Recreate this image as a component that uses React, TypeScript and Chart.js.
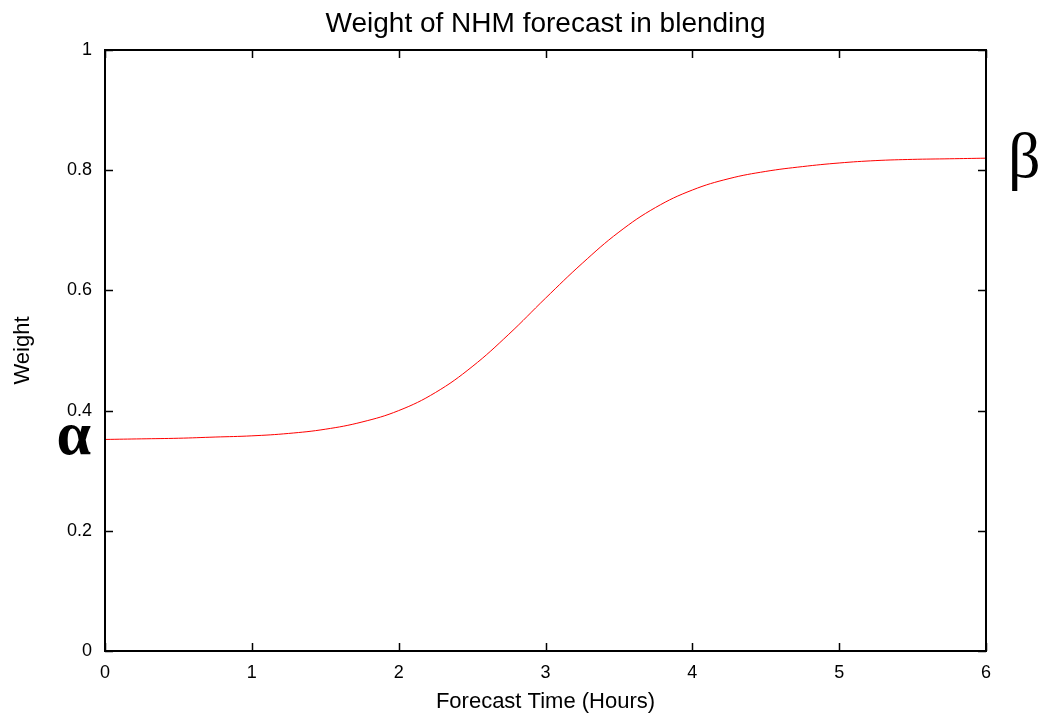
import { useEffect, useRef } from 'react';
import { Chart, registerables } from 'chart.js';

Chart.register(...registerables);

const TITLE = 'Weight of NHM forecast in blending';
const X_TITLE = 'Forecast Time (Hours)';
const Y_TITLE = 'Weight';
const START_SYMBOL = 'α';
const END_SYMBOL = 'β';

const hours = [0, 0.25, 0.5, 0.75, 1, 1.25, 1.5, 1.75, 2, 2.25, 2.5, 2.75, 3, 3.25, 3.5, 3.75, 4, 4.25, 4.5, 4.75, 5, 5.25, 5.5, 5.75, 6];
const weights = [0.352, 0.353, 0.354, 0.356, 0.358, 0.362, 0.369, 0.381, 0.4, 0.43, 0.473, 0.527, 0.587, 0.645, 0.697, 0.738, 0.767, 0.786, 0.798, 0.806, 0.812, 0.816, 0.818, 0.819, 0.82];

const xTicks = [0, 1, 2, 3, 4, 5, 6];
const yTicks = [0, 0.2, 0.4, 0.6, 0.8, 1];

const SANS = "'Liberation Sans', Arial, sans-serif";
const SERIF = "'Liberation Serif', 'Times New Roman', serif";

const decor = {
  id: 'gnuplotDecor',
  beforeDraw(chart: any) {
    const { ctx, width, height } = chart;
    ctx.save();
    ctx.fillStyle = '#ffffff';
    ctx.fillRect(0, 0, width, height);
    ctx.restore();
  },
  afterDraw(chart: any) {
    const { ctx, chartArea } = chart;
    const { left, right, top, bottom } = chartArea;
    const xs = chart.scales.x;
    const ys = chart.scales.y;
    ctx.save();
    // inward mirrored ticks
    ctx.strokeStyle = '#000';
    ctx.lineWidth = 1.5;
    const tl = 8;
    ctx.beginPath();
    xTicks.forEach((v) => {
      const px = Math.round(xs.getPixelForValue(v)) + 0.5;
      ctx.moveTo(px, bottom);
      ctx.lineTo(px, bottom - tl);
      ctx.moveTo(px, top);
      ctx.lineTo(px, top + tl);
    });
    yTicks.forEach((v) => {
      const py = Math.round(ys.getPixelForValue(v)) + 0.5;
      ctx.moveTo(left, py);
      ctx.lineTo(left + tl, py);
      ctx.moveTo(right, py);
      ctx.lineTo(right - tl, py);
    });
    ctx.stroke();
    // frame
    ctx.lineWidth = 2;
    ctx.strokeRect(left, top, right - left, bottom - top);

    // title
    ctx.fillStyle = '#000';
    ctx.font = `28px ${SANS}`;
    ctx.textAlign = 'center';
    ctx.textBaseline = 'alphabetic';
    ctx.fillText(TITLE, (left + right) / 2, 32);

    // alpha / beta markers at curve ends
    const y0 = ys.getPixelForValue(weights[0]);
    const y1 = ys.getPixelForValue(weights[weights.length - 1]);
    ctx.font = `bold 62px ${SERIF}`;
    ctx.textAlign = 'right';
    ctx.fillText(START_SYMBOL, left - 14, y0 + 15);
    ctx.font = `64px ${SERIF}`;
    ctx.textAlign = 'left';
    ctx.fillText(END_SYMBOL, right + 22, y1 + 19);
    ctx.restore();
  },
};

export default function App() {
  const ref = useRef<HTMLCanvasElement | null>(null);

  useEffect(() => {
    const prevMargin = document.body.style.margin;
    document.body.style.margin = '0';
    const canvas = ref.current;
    if (!canvas) return;
    const chart = new Chart(canvas, {
      type: 'line',
      data: {
        datasets: [
          {
            label: 'Weight',
            data: hours.map((h, i) => ({ x: h, y: weights[i] })),
            borderColor: '#ff0000',
            borderWidth: 1,
            pointRadius: 0,
            fill: false,
            tension: 0.4,
          },
        ],
      },
      options: {
        responsive: false,
        animation: false,
        devicePixelRatio: 1,
        layout: { padding: { top: 50, right: 60, left: 0, bottom: 0 } },
        plugins: {
          legend: { display: false },
          tooltip: { enabled: false },
          title: { display: false },
        },
        scales: {
          x: {
            type: 'linear',
            min: 0,
            max: 6,
            afterFit: (s: any) => {
              s.height = 68;
            },
            afterBuildTicks: (s: any) => {
              s.ticks = xTicks.map((v) => ({ value: v }));
            },
            grid: { display: false, drawTicks: false },
            border: { display: false },
            ticks: {
              color: '#000',
              padding: 11,
              font: { family: SANS, size: 18 },
              maxRotation: 0,
              callback: (v: any) => String(v),
            },
            title: {
              display: true,
              text: X_TITLE,
              color: '#000',
              font: { family: SANS, size: 22 },
              padding: { top: 0, bottom: 4 },
            },
          },
          y: {
            type: 'linear',
            min: 0,
            max: 1,
            afterFit: (s: any) => {
              s.width = 105;
            },
            afterBuildTicks: (s: any) => {
              s.ticks = yTicks.map((v) => ({ value: v }));
            },
            grid: { display: false, drawTicks: false },
            border: { display: false },
            ticks: {
              color: '#000',
              padding: 13,
              font: { family: SANS, size: 18 },
              callback: (v: any) => String(Number(Number(v).toFixed(1))),
            },
            title: {
              display: true,
              text: Y_TITLE,
              color: '#000',
              font: { family: SANS, size: 22 },
              padding: { top: 10, bottom: 0 },
            },
          },
        },
      },
      plugins: [decor],
    });
    return () => {
      chart.destroy();
      document.body.style.margin = prevMargin;
    };
  }, []);

  return (
    <div style={{ position: 'fixed', left: 0, top: 0, width: 1046, height: 719, background: '#fff' }}>
      <canvas ref={ref} width={1046} height={719} style={{ display: 'block', width: 1046, height: 719 }} />
    </div>
  );
}
